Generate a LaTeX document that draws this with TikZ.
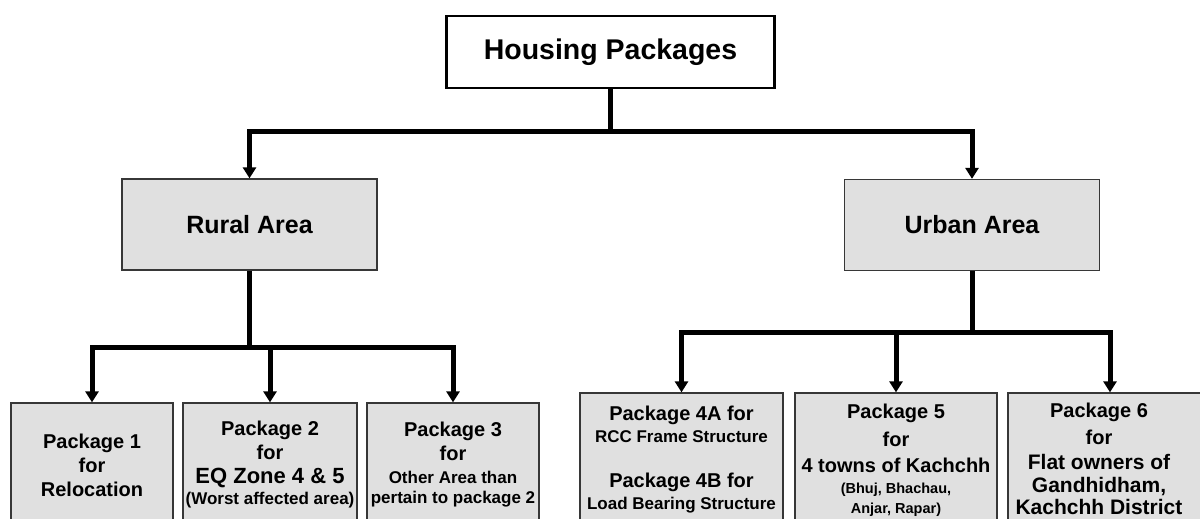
\documentclass[tikz,border=0pt]{standalone}
\usepackage{fontspec}
\setmainfont{Liberation Sans}
\usetikzlibrary{arrows.meta}
\definecolor{boxgray}{RGB}{224,224,224}
\definecolor{edgegray}{RGB}{55,55,55}
\newcommand{\smalltxt}{\fontsize{17}{20}\selectfont}
\newcommand{\tinytxt}{\fontsize{14.5}{20}\selectfont}
\newcommand{\bigtxt}{\fontsize{22}{24}\selectfont}
\newcommand{\midtxt}{\fontsize{21}{24}\selectfont}
\begin{document}
\begin{tikzpicture}[x=1pt,y=-1pt,
  topbox/.style={draw=black,line width=2.7pt,fill=white,minimum width=328pt,minimum height=72pt,inner sep=0pt,font=\bfseries\fontsize{28.5}{32}\selectfont},
  areabox/.style={draw=edgegray,line width=1.3pt,fill=boxgray,minimum width=255pt,minimum height=91pt,inner sep=0pt,font=\bfseries\fontsize{25}{30}\selectfont},
  pkgbox/.style={draw=edgegray,line width=1.3pt,fill=boxgray,inner sep=0pt,align=center,font=\bfseries\fontsize{20}{24}\selectfont},
  pkgtext/.style={inner sep=0pt,align=center,font=\bfseries\fontsize{20}{24}\selectfont},
  link/.style={line width=5pt},
  arr/.style={line width=5pt,-{Triangle[width=13pt,length=11pt]}},
]
\useasboundingbox (0,0) rectangle (1200,519);
\clip (0,0) rectangle (1200,519);

\node[topbox] (top) at (610.5,52) {Housing Packages};
\node[areabox] (rural) at (249.5,224.5) {Rural Area};
\node[areabox] (urban) at (972,225) {Urban Area};

\node[pkgbox,minimum width=162pt,minimum height=124pt] (p1) at (92,465)
  {Package 1\\for\\Relocation};
\node[pkgbox,minimum width=174pt,minimum height=124pt] (p2) at (270,465)
  {Package 2\\for\\{\bigtxt EQ Zone 4 \& 5}\\[-3pt]{\smalltxt (Worst affected area)}};
\node[pkgbox,minimum width=172pt,minimum height=124pt] (p3) at (453,465)
  {Package 3\\for\\[-1pt]{\smalltxt Other Area than}\\[-4pt]{\smalltxt pertain to package 2}};
\node[pkgbox,minimum width=203pt,minimum height=134pt] (p4) at (681.5,460)
  {Package 4A for\\[-2pt]{\smalltxt RCC Frame Structure}\\[21pt]Package 4B for\\[-2pt]{\smalltxt Load Bearing Structure}};
\node[pkgbox,minimum width=202pt,minimum height=134pt] (p5) at (896,460)
  {Package 5\\[4pt]for\\[2pt]4 towns of Kachchh\\[-3pt]{\tinytxt (Bhuj, Bhachau,}\\[-4pt]{\tinytxt Anjar, Rapar)}};
\node[pkgbox,minimum width=204pt,minimum height=134pt] (p6) at (1110,460) {};
\node[pkgtext] (p6t) at (1099,459)
  {Package 6\\[3pt]for\\[1pt]{\midtxt Flat owners of}\\[-1pt]{\midtxt Gandhidham,}\\[-2pt]{\midtxt Kachchh District}};

\coordinate (j0) at (top.south |- 0,131);
\draw[link] (top) -- (j0);
\draw[arr] (j0) -| (rural);
\draw[arr] (j0) -| (urban);

\coordinate (j1) at (rural.south |- 0,347);
\draw[link] (rural) -- (j1);
\draw[arr] (j1) -| (p1);
\draw[arr] (j1) -| (p2);
\draw[arr] (j1) -| (p3);

\coordinate (j2) at (urban.south |- 0,332);
\draw[link] (urban) -- (j2);
\draw[arr] (j2) -| (p4);
\draw[arr] (j2) -| (p5);
\draw[arr] (j2) -| (p6);
\end{tikzpicture}
\end{document}
